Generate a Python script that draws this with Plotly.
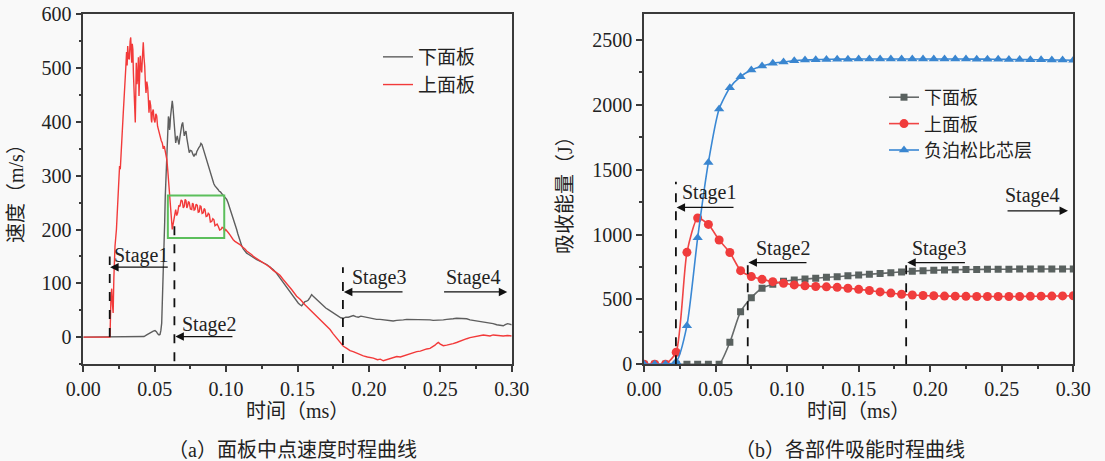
import plotly.graph_objects as go

W, H = 1105, 461

# ---------------- (a) panel mid-point velocity ----------------
upper_pts = [
    (0.0, 0), (0.0187, 0), (0.0194, 76), (0.0199, 90), (0.0204, 60), (0.0209, 45), (0.0214, 110),
    (0.0222, 169), (0.0232, 200), (0.0241, 250), (0.0250, 300), (0.0254, 318), (0.0259, 312),
    (0.0266, 340), (0.0280, 417), (0.0297, 498), (0.0303, 530), (0.0307, 505), (0.0311, 541),
    (0.0316, 520), (0.0322, 516), (0.0328, 550), (0.0332, 557), (0.0336, 530), (0.0339, 510),
    (0.0343, 545), (0.0347, 535), (0.0351, 490), (0.0355, 467), (0.0360, 420), (0.0364, 399),
    (0.0368, 460), (0.0371, 510), (0.0376, 470), (0.0381, 485), (0.0386, 520), (0.0390, 448),
    (0.0395, 490), (0.0399, 523), (0.0404, 500), (0.0409, 492), (0.0414, 520), (0.0420, 548),
    (0.0425, 520), (0.0430, 504), (0.0435, 470), (0.0439, 454), (0.0445, 475), (0.0451, 464),
    (0.0456, 440), (0.0460, 417), (0.0466, 440), (0.0472, 430), (0.0476, 405), (0.0479, 399),
    (0.0484, 418), (0.0490, 423), (0.0495, 405), (0.0502, 399), (0.0508, 415), (0.0514, 411),
    (0.0520, 392), (0.0525, 386), (0.0532, 380), (0.0539, 374), (0.0546, 365), (0.0553, 361),
    (0.0560, 350), (0.0567, 355), (0.0573, 347), (0.0579, 343), (0.0585, 330), (0.0591, 312),
    (0.0597, 290), (0.0602, 268), (0.0608, 250), (0.0614, 231), (0.0619, 212), (0.0623, 200),
    (0.0629, 210), (0.0635, 218), (0.0641, 228), (0.0647, 237), (0.0654, 226), (0.0661, 231),
    (0.0669, 245), (0.0677, 243), (0.0685, 255), (0.0693, 253), (0.0700, 240), (0.0707, 243),
    (0.0713, 256), (0.0719, 254), (0.0725, 240), (0.0730, 243), (0.0736, 252), (0.0742, 250),
    (0.0750, 238), (0.0759, 237), (0.0765, 249), (0.0770, 247), (0.0776, 236), (0.0782, 237),
    (0.0790, 247), (0.0798, 245), (0.0805, 232), (0.0812, 233), (0.0818, 244), (0.0824, 243),
    (0.0832, 230), (0.0840, 231), (0.0846, 239), (0.0852, 237), (0.0860, 224), (0.0868, 225),
    (0.0875, 230), (0.0882, 228), (0.0890, 214), (0.0899, 215), (0.0907, 220), (0.0915, 218),
    (0.0922, 207), (0.0929, 209), (0.0937, 210), (0.0945, 206), (0.0955, 199), (0.0964, 200),
    (0.0972, 204), (0.0980, 203), (0.0990, 197), (0.0997, 200), (0.1006, 196), (0.1016, 194),
    (0.1027, 190), (0.1039, 184), (0.1050, 181), (0.1062, 178), (0.1074, 176), (0.1086, 175),
    (0.1097, 172), (0.1109, 169), (0.1120, 167), (0.1132, 164), (0.1144, 160), (0.1156, 158),
    (0.1167, 155), (0.1180, 153), (0.1191, 150), (0.1210, 147), (0.1237, 143), (0.1260, 138),
    (0.1284, 134), (0.1307, 130), (0.1330, 124), (0.1353, 120), (0.1377, 115), (0.1400, 107),
    (0.1424, 100), (0.1436, 97), (0.1460, 88), (0.1494, 76), (0.1520, 70), (0.1552, 60),
    (0.1580, 53), (0.1611, 45), (0.1640, 37), (0.1669, 29), (0.1700, 21), (0.1728, 14),
    (0.1750, 6), (0.1774, -2), (0.1800, -10), (0.1821, -17), (0.1845, -21), (0.1868, -25),
    (0.1890, -27), (0.1915, -30), (0.1940, -32), (0.1961, -35), (0.1990, -37), (0.2031, -39),
    (0.2060, -42), (0.2080, -41), (0.2101, -44), (0.2125, -42), (0.2148, -41), (0.2170, -38),
    (0.2195, -36), (0.2220, -37), (0.2241, -35), (0.2265, -33), (0.2288, -31), (0.2310, -29),
    (0.2335, -27), (0.2360, -26), (0.2381, -24), (0.2405, -22), (0.2428, -21), (0.2450, -18),
    (0.2463, -15), (0.2475, -12), (0.2486, -10), (0.2500, -13), (0.2521, -16), (0.2545, -15),
    (0.2568, -14), (0.2590, -12), (0.2614, -10), (0.2640, -7), (0.2661, -5), (0.2685, -3),
    (0.2708, -1), (0.2730, 0), (0.2755, 2), (0.2780, 3), (0.2801, 4), (0.2825, 3),
    (0.2848, 2), (0.2870, 4), (0.2895, 3), (0.2920, 2), (0.2941, 2), (0.2970, 3), (0.3000, 2),
]

lower_pts = [
    (0.0, 0), (0.0409, 0), (0.0425, 1), (0.0444, 4), (0.0460, 7), (0.0479, 9), (0.0490, 11),
    (0.0502, 12), (0.0512, 10), (0.0521, 6), (0.0530, 4), (0.0537, 5), (0.0543, 12), (0.0549, 26),
    (0.0553, 55), (0.0556, 88), (0.0560, 125), (0.0565, 169), (0.0570, 215), (0.0574, 262),
    (0.0579, 300), (0.0584, 336), (0.0588, 370), (0.0591, 392), (0.0596, 410), (0.0600, 405),
    (0.0604, 385), (0.0607, 392), (0.0611, 410), (0.0614, 423), (0.0618, 430), (0.0623, 439),
    (0.0627, 430), (0.0630, 417), (0.0634, 400), (0.0637, 386), (0.0642, 370), (0.0647, 361),
    (0.0652, 368), (0.0658, 374), (0.0664, 365), (0.0670, 358), (0.0677, 372), (0.0684, 386),
    (0.0690, 395), (0.0696, 399), (0.0701, 385), (0.0707, 374), (0.0713, 380), (0.0719, 383),
    (0.0725, 370), (0.0731, 358), (0.0736, 350), (0.0742, 343), (0.0750, 347), (0.0759, 346),
    (0.0767, 340), (0.0775, 336), (0.0782, 340), (0.0789, 339), (0.0795, 345), (0.0801, 349),
    (0.0809, 352), (0.0817, 355), (0.0824, 360), (0.0831, 358), (0.0838, 352), (0.0845, 346),
    (0.0852, 338), (0.0859, 330), (0.0867, 324), (0.0875, 318), (0.0883, 312), (0.0892, 305),
    (0.0899, 298), (0.0906, 290), (0.0914, 285), (0.0922, 281), (0.0930, 279), (0.0938, 277),
    (0.0945, 274), (0.0952, 271), (0.0960, 270), (0.0969, 267), (0.0978, 264), (0.0987, 262),
    (0.0995, 259), (0.1004, 256), (0.1013, 250), (0.1022, 243), (0.1030, 237), (0.1039, 231),
    (0.1048, 223), (0.1057, 215), (0.1066, 207), (0.1074, 200), (0.1082, 192), (0.1090, 184),
    (0.1100, 176), (0.1109, 170), (0.1120, 164), (0.1132, 159), (0.1144, 156), (0.1156, 154),
    (0.1170, 152), (0.1191, 148), (0.1215, 144), (0.1237, 141), (0.1260, 138), (0.1284, 135),
    (0.1307, 130), (0.1331, 125), (0.1355, 118), (0.1377, 110), (0.1400, 101), (0.1424, 91),
    (0.1448, 83), (0.1471, 76), (0.1490, 68), (0.1506, 63), (0.1518, 60), (0.1529, 58),
    (0.1540, 62), (0.1552, 66), (0.1564, 67), (0.1576, 69), (0.1588, 74), (0.1599, 79),
    (0.1610, 76), (0.1622, 73), (0.1634, 70), (0.1646, 66), (0.1663, 62), (0.1681, 57),
    (0.1698, 54), (0.1716, 51), (0.1733, 48), (0.1751, 45), (0.1768, 41), (0.1786, 38),
    (0.1803, 36), (0.1821, 35), (0.1838, 37), (0.1856, 37), (0.1873, 39), (0.1891, 40),
    (0.1908, 38), (0.1926, 37), (0.1944, 39), (0.1961, 38), (0.1985, 36), (0.2008, 35),
    (0.2030, 34), (0.2054, 33), (0.2078, 33), (0.2101, 32), (0.2125, 31), (0.2148, 31),
    (0.2170, 30), (0.2195, 31), (0.2218, 31), (0.2241, 32), (0.2265, 33), (0.2288, 33),
    (0.2310, 32), (0.2335, 32), (0.2358, 33), (0.2381, 33), (0.2405, 32), (0.2428, 32),
    (0.2450, 31), (0.2475, 31), (0.2498, 32), (0.2521, 32), (0.2545, 33), (0.2568, 33),
    (0.2590, 34), (0.2614, 35), (0.2638, 35), (0.2661, 35), (0.2685, 34), (0.2708, 32),
    (0.2730, 31), (0.2755, 31), (0.2778, 30), (0.2801, 29), (0.2825, 28), (0.2848, 27),
    (0.2870, 25), (0.2895, 23), (0.2918, 22), (0.2941, 21), (0.2955, 23), (0.2971, 25),
    (0.2985, 24), (0.3000, 23),
]

# stage boundaries (ms)
stage_a = [0.0185, 0.0638, 0.1818]
stage_b = [0.0223, 0.0725, 0.1832]

# ---------------- (b) absorbed energy ----------------
t_b = [0.0, 0.0075, 0.015, 0.0225, 0.03, 0.0375, 0.045, 0.0525, 0.06, 0.0675,
       0.075, 0.0825, 0.09, 0.0975, 0.105, 0.1125, 0.12, 0.1275, 0.135, 0.1425,
       0.15, 0.1575, 0.165, 0.1725, 0.18, 0.1875, 0.195, 0.2025, 0.21, 0.2175,
       0.225, 0.2325, 0.24, 0.2475, 0.255, 0.2625, 0.27, 0.2775, 0.285, 0.2925, 0.30]
e_lower = [0, 0, 0, 0, 0, 0, 0, 0, 170, 406,
           513, 586, 617, 640, 650, 658, 663, 670, 675, 682,
           688, 694, 700, 706, 712, 718, 722, 725, 727, 729,
           730, 731, 732, 733, 733, 734, 734, 735, 735, 735, 735]
e_upper = [0, 0, 0, 93, 863, 1128, 1078, 958, 862, 722,
           676, 655, 637, 625, 612, 605, 600, 597, 593, 586,
           578, 569, 558, 549, 540, 534, 530, 528, 526, 525,
           524, 523, 523, 523, 523, 523, 524, 525, 526, 527, 528]
e_core = [0, 0, 0, 20, 298, 975, 1556, 1968, 2132, 2217,
          2268, 2299, 2320, 2330, 2340, 2345, 2348, 2350, 2352, 2352,
          2353, 2353, 2353, 2353, 2353, 2353, 2353, 2353, 2353, 2353,
          2353, 2352, 2352, 2351, 2350, 2349, 2348, 2347, 2346, 2345, 2343]

SERIF = "Liberation Serif, Times New Roman, serif"
CJK = "Liberation Serif, Noto Sans CJK SC, serif"
INK = "#222222"
AXC = "#3a3a3a"

fig = go.Figure()

fig.add_trace(go.Scatter(x=[p[0] for p in lower_pts], y=[p[1] for p in lower_pts],
                         mode="lines", name="下面板", line=dict(color="#5e5e5e", width=1.4),
                         xaxis="x", yaxis="y", legend="legend"))
fig.add_trace(go.Scatter(x=[p[0] for p in upper_pts], y=[p[1] for p in upper_pts],
                         mode="lines", name="上面板", line=dict(color="#f23a3a", width=1.4),
                         xaxis="x", yaxis="y", legend="legend"))

fig.add_trace(go.Scatter(x=t_b, y=e_lower, mode="lines+markers", name="下面板",
                         line=dict(color="#666a6a", width=1.6, shape="spline", smoothing=0.6),
                         marker=dict(symbol="square", size=7, color="#59615f"),
                         xaxis="x2", yaxis="y2", legend="legend2"))
fig.add_trace(go.Scatter(x=t_b, y=e_upper, mode="lines+markers", name="上面板",
                         line=dict(color="#f04545", width=1.6, shape="spline", smoothing=0.6),
                         marker=dict(symbol="circle", size=9, color="#f03c3c"),
                         xaxis="x2", yaxis="y2", legend="legend2"))
fig.add_trace(go.Scatter(x=t_b, y=e_core, mode="lines+markers", name="负泊松比芯层",
                         line=dict(color="#3a88d4", width=1.6, shape="spline", smoothing=0.6),
                         marker=dict(symbol="triangle-up", size=9, color="#3a86d0"),
                         xaxis="x2", yaxis="y2", legend="legend2"))


def px_x(p):
    return p / W


def px_y(p):
    return 1 - p / H


axis_common = dict(showline=True, linecolor=AXC, linewidth=1.6, mirror=True,
                   showgrid=False, zeroline=False, ticks="outside", ticklen=6,
                   tickwidth=1.5, tickcolor=AXC, automargin=False,
                   tickfont=dict(family=SERIF, size=20, color=INK))

fig.update_layout(
    width=W, height=H,
    margin=dict(l=0, r=0, t=0, b=0, autoexpand=False),
    paper_bgcolor="#f9f9f9", plot_bgcolor="#f9f9f9",
    xaxis=dict(domain=[px_x(83.3), px_x(511.7)], range=[0, 0.30], dtick=0.05,
               tickformat=".2f", anchor="y",
               minor=dict(dtick=0.025, ticks="outside", ticklen=3, tickcolor=AXC),
               **axis_common),
    yaxis=dict(domain=[px_y(364), px_y(14.3)], range=[-50, 600],
               tickvals=[0, 100, 200, 300, 400, 500, 600], anchor="x",
               minor=dict(tickvals=[-50, 50, 150, 250, 350, 450, 550], ticks="outside",
                          ticklen=3, tickcolor=AXC),
               **axis_common),
    xaxis2=dict(domain=[px_x(644), px_x(1073.3)], range=[0, 0.30], dtick=0.05,
                tickformat=".2f", anchor="y2",
                minor=dict(dtick=0.025, ticks="outside", ticklen=3, tickcolor=AXC),
                **axis_common),
    yaxis2=dict(domain=[px_y(364.3), px_y(14)], range=[0, 2700], dtick=500, anchor="x2",
                minor=dict(dtick=250, ticks="outside", ticklen=3, tickcolor=AXC),
                **axis_common),
    legend=dict(x=px_x(378), y=px_y(38), xanchor="left", yanchor="top",
                bgcolor="rgba(0,0,0,0)", font=dict(family=CJK, size=19, color=INK),
                tracegroupgap=0, itemwidth=30),
    legend2=dict(x=px_x(884), y=px_y(79), xanchor="left", yanchor="top",
                 bgcolor="rgba(0,0,0,0)", font=dict(family=CJK, size=18, color=INK),
                 tracegroupgap=0, itemwidth=30),
)

shapes = []
# left stage dashed lines
for t, y0, y1 in [(stage_a[0], 0, 150), (stage_a[1], -45, 206), (stage_a[2], -48, 130)]:
    shapes.append(dict(type="line", xref="x", yref="y", x0=t, x1=t, y0=y0, y1=y1,
                       line=dict(color="#111", width=1.8, dash="dash")))
# green box
shapes.append(dict(type="rect", xref="x", yref="y", x0=0.0592, x1=0.0987, y0=184, y1=263,
                   line=dict(color="#5cbf5c", width=2)))
# right stage dashed lines
for t, y1 in [(stage_b[0], 1407), (stage_b[1], 828), (stage_b[2], 828)]:
    shapes.append(dict(type="line", xref="x2", yref="y2", x0=t, x1=t, y0=0, y1=y1,
                       line=dict(color="#111", width=1.8, dash="dash")))
fig.update_layout(shapes=shapes)

ann = []


def arrow(xr, yr, x_tip, x_tail, y):
    ann.append(dict(xref=xr, yref=yr, axref=xr, ayref=yr, x=x_tip, y=y, ax=x_tail, ay=y,
                    text="", showarrow=True, arrowhead=2, arrowsize=1.3, arrowwidth=1.3,
                    arrowcolor="#111"))


def label(xr, yr, x, y, s):
    ann.append(dict(xref=xr, yref=yr, x=x, y=y, text=s, showarrow=False,
                    xanchor="center", yanchor="middle",
                    font=dict(family=SERIF, size=20, color=INK)))


# left panel stage marks
label("x", "y", 0.0407, 151, "Stage1")
arrow("x", "y", 0.0188, 0.0602, 130)
label("x", "y", 0.0881, 24, "Stage2")
arrow("x", "y", 0.0645, 0.1055, 1)
label("x", "y", 0.2073, 110, "Stage3")
arrow("x", "y", 0.1825, 0.2246, 84)
label("x", "y", 0.2728, 110, "Stage4")
arrow("x", "y", 0.2969, 0.2516, 84)

# right panel stage marks
label("x2", "y2", 0.0453, 1322, "Stage1")
arrow("x2", "y2", 0.0228, 0.0636, 1209)
label("x2", "y2", 0.0973, 893, "Stage2")
arrow("x2", "y2", 0.0730, 0.1146, 784)
label("x2", "y2", 0.2062, 893, "Stage3")
arrow("x2", "y2", 0.1840, 0.2253, 784)
label("x2", "y2", 0.2711, 1299, "Stage4")
arrow("x2", "y2", 0.2963, 0.2530, 1183)

# axis titles and captions
txt = dict(family=CJK, size=20, color=INK)
ann += [
    dict(xref="paper", yref="paper", x=px_x(16), y=px_y(189), text="速度（m/s）",
         textangle=-90, showarrow=False, xanchor="center", yanchor="middle", font=txt),
    dict(xref="paper", yref="paper", x=px_x(565), y=px_y(190), text="吸收能量（J）",
         textangle=-90, showarrow=False, xanchor="center", yanchor="middle", font=txt),
    dict(xref="paper", yref="paper", x=px_x(297.5), y=px_y(411), text="时间（ms）",
         showarrow=False, xanchor="center", yanchor="middle", font=txt),
    dict(xref="paper", yref="paper", x=px_x(858.6), y=px_y(411), text="时间（ms）",
         showarrow=False, xanchor="center", yanchor="middle", font=txt),
    dict(xref="paper", yref="paper", x=px_x(292), y=px_y(450), text="（a）面板中点速度时程曲线",
         showarrow=False, xanchor="center", yanchor="middle", font=txt),
    dict(xref="paper", yref="paper", x=px_x(849.5), y=px_y(450), text="（b）各部件吸能时程曲线",
         showarrow=False, xanchor="center", yanchor="middle", font=txt),
]
fig.update_layout(annotations=ann)

fig.write_html("out.html")
